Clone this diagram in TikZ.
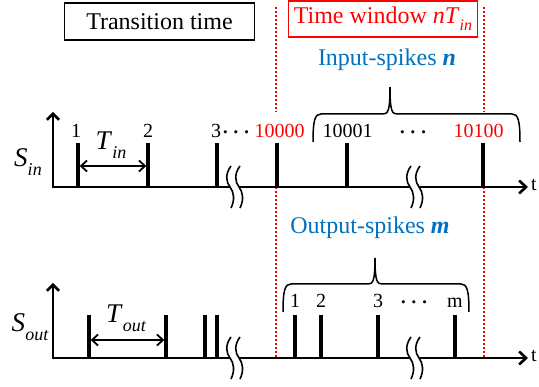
\documentclass[tikz,border=0pt]{standalone}
\usepackage{fontspec}
\setmainfont{Liberation Serif}
\usetikzlibrary{arrows.meta}
\definecolor{winred}{RGB}{255,0,0}
\definecolor{spkblue}{RGB}{0,112,192}
\newcommand\mysubit[2]{\textit{#1}\raisebox{-0.32em}{\fontsize{18}{18}\selectfont\itshape #2}}
\newcommand\mydots{{\boldmath$\cdots$}}
\begin{document}
\begin{tikzpicture}[x=1pt,y=-1pt,
  axis/.style={line width=2.6pt, line join=miter, {Straight Barb[length=6pt,width=12pt]}-{Straight Barb[length=7pt,width=13pt]}},
  spike/.style={line width=3.3pt},
  num/.style={font=\fontsize{20}{24}\selectfont, anchor=base, inner sep=0pt},
  bigit/.style={font=\fontsize{27}{30}\selectfont, inner sep=0pt},
  win/.style={winred, line width=2.6pt, dash pattern=on 2.2pt off 1.8pt},
  brace/.style={line width=1.5pt},
  period/.style={line width=1.8pt, {Straight Barb[length=6pt,width=11pt]}-{Straight Barb[length=6pt,width=11pt]}},
  axisbreak/.pic={
    \fill[white] (1,-21) .. controls (-5,-13) and (-4,-5) .. (0,0) .. controls (4,5) and (5,13) .. (1,21)
      -- (10,21) .. controls (14,13) and (13,5) .. (9,0) .. controls (5,-5) and (4,-13) .. (10,-21) -- cycle;
    \draw[line width=1.6pt] (1,-21) .. controls (-5,-13) and (-4,-5) .. (0,0) .. controls (4,5) and (5,13) .. (1,21);
    \draw[line width=1.6pt] (10,-21) .. controls (4,-13) and (5,-5) .. (9,0) .. controls (13,5) and (14,13) .. (10,21);
  }]
\useasboundingbox (0,0) rectangle (539,387);

% header boxes
\node[draw, line width=1.6pt, minimum width=190pt, minimum height=37pt, inner sep=0pt,
  font=\fontsize{24}{28}\selectfont] (trans) at (159.5,21.5) {Transition time};
\node[draw=winred, text=winred, line width=1.6pt, minimum width=189pt, minimum height=36pt, inner sep=0pt,
  font=\fontsize{24}{28}\selectfont] (window) at (383,19) {Time window \textit{nT}\raisebox{-0.3em}{\fontsize{16}{16}\selectfont\itshape in}};

% time window dotted lines
\coordinate (wl1) at (276,7);  \coordinate (wl2) at (276,112);
\coordinate (wl3) at (276,187); \coordinate (wl4) at (276,358);
\coordinate (wr1) at (484,7);  \coordinate (wr2) at (484,112);
\coordinate (wr3) at (484,187); \coordinate (wr4) at (484,358);
\draw[win] (wl1) -- (wl2) (wl3) -- (wl4);
\draw[win] (wr1) -- (wr2) (wr3) -- (wr4);

% ---------- input axis ----------
\coordinate (iy) at (53,112);
\coordinate (io) at (53,187);
\coordinate (ix) at (528,187);
\draw[axis] (iy) -- (io) -- (ix);
\node[num, anchor=center] (it) at (534,185) {t};
\pic at (230,187) {axisbreak};
\pic at (410,187) {axisbreak};

\foreach \x/\n in {78/i1,148/i2,217/i3,277/i4,347/i5,483/i6}{
  \coordinate (\n b) at (\x,187);
  \coordinate (\n t) at (\x,143);
  \draw[spike] (\n b) -- (\n t);
}
\node[num] (l1) at (76,138) {1};
\node[num] (l2) at (148,138) {2};
\node[num] (l3) at (216,138) {3};
\node[num] (d1) at (236,138) {\mydots};
\node[num, text=winred] (l4) at (279.5,138) {10000};
\node[num] (l5) at (347.5,138) {10001};
\node[num] (d2) at (413,138) {\mydots};
\node[num, text=winred] (l6) at (478.5,138) {10100};

\node[bigit] (sin) at (28,162) {\mysubit{S}{in}};
\node[bigit] (tin) at (111,145) {\mysubit{T}{in}};
\draw[period] (79.7,166) -- (146.3,166);

\draw[brace] (313,142) .. controls (313,120) and (315,114) .. (321,114) -- (383,114)
  .. controls (388,114) and (390,111) .. (390,87)
  .. controls (390,111) and (392,114) .. (397,114) -- (512,114)
  .. controls (518,114) and (520,120) .. (520,142);
\node[font=\fontsize{24}{28}\selectfont, text=spkblue, inner sep=0pt] (inspk) at (387,60) {Input-spikes \textbf{\textit{n}}};

% ---------- output axis ----------
\coordinate (oy) at (53,283);
\coordinate (oo) at (53,358);
\coordinate (ox) at (528,358);
\draw[axis] (oy) -- (oo) -- (ox);
\node[num, anchor=center] (ot) at (534,356) {t};
\pic at (230,358) {axisbreak};
\pic at (410,358) {axisbreak};

\foreach \x/\n in {89/o1,166/o2,205/o3,217/o4,295/o5,321/o6,378/o7,455/o8}{
  \coordinate (\n b) at (\x,358);
  \coordinate (\n t) at (\x,315);
  \draw[spike] (\n b) -- (\n t);
}
\node[num] (m1) at (295,308) {1};
\node[num] (m2) at (321,308) {2};
\node[num] (m3) at (378,308) {3};
\node[num] (d3) at (414,308) {\mydots};
\node[num] (mm) at (455,308) {m};

\node[bigit] (sout) at (30,327) {\mysubit{S}{out}};
\node[bigit] (tout) at (126,318) {\mysubit{T}{out}};
\draw[period] (90.7,340) -- (164.3,340);

\draw[brace] (283,312) .. controls (283,290) and (285,284) .. (291,284) -- (368,284)
  .. controls (373,284) and (375,281) .. (375,258)
  .. controls (375,281) and (377,284) .. (382,284) -- (461,284)
  .. controls (467,284) and (469,290) .. (469,312);
\node[font=\fontsize{24}{28}\selectfont, text=spkblue, inner sep=0pt] (outspk) at (370,228) {Output-spikes \textbf{\textit{m}}};
\end{tikzpicture}
\end{document}
